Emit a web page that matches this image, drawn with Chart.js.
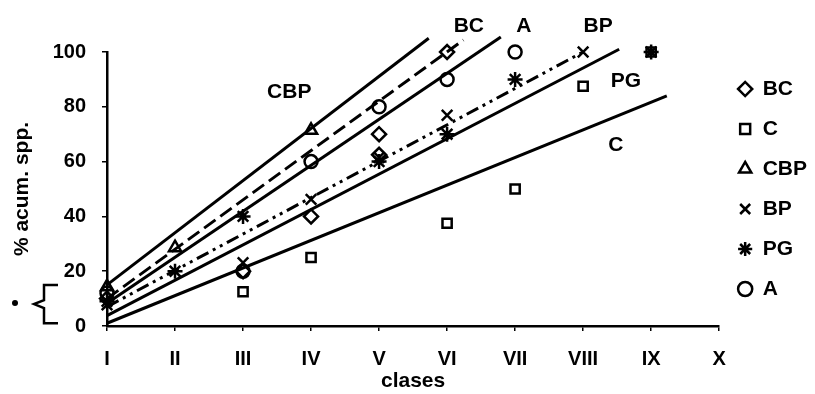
<!DOCTYPE html>
<html>
<head>
<meta charset="utf-8">
<script src="https://cdn.jsdelivr.net/npm/chart.js@4.4.1/dist/chart.umd.min.js"></script>
<style>
  html, body { margin: 0; padding: 0; background: #fff; }
</style>
</head>
<body>
<canvas id="curves" width="815" height="394"></canvas>
<script>
// clases on the x axis (1..10)
const classes = ['I', 'II', 'III', 'IV', 'V', 'VI', 'VII', 'VIII', 'IX', 'X'];
const yTicks = [0, 20, 40, 60, 80, 100];

// % acumulado de especies por clase: [clase, %]
const bcPoints  = [[1, 10], [3, 20], [4, 40], [5, 62.5], [5, 70], [6, 100]];
const cPoints   = [[3, 12.5], [4, 25], [6, 37.5], [7, 50], [8, 87.5], [9, 100]];
const cbpPoints = [[1, 14.3], [2, 28.6], [4, 71.4]];
const bpPoints  = [[1, 7.7], [3, 23.1], [4, 46.2], [5, 61.5], [6, 76.9], [8, 100]];
const pgPoints  = [[1, 9], [2, 20], [3, 40], [5, 60], [6, 70], [7, 90], [9, 100]];
const aPoints   = [[1, 12], [3, 20], [4, 60], [5, 80], [6, 90], [7, 100]];

// fitted lines: first and last point
const cbpFit = [[1, 15], [5.73, 105]];
const bcFit  = [[1, 10], [6.24, 104.4]];
const aFit   = [[1, 8.3], [6.79, 105.5]];
const bpFit  = [[1, 7], [8, 100]];
const pgFit  = [[1, 3.8], [8.53, 101]];
const cFit   = [[1, 1], [9.23, 84]];

// names written next to each fitted line
const lineNames = ['CBP', 'BC', 'A', 'BP', 'PG', 'C'];
const labelSpots = [[3.68, 85.4], [6.32, 109.5], [7.13, 109.5], [8.22, 109.5], [8.63, 89.4], [8.48, 66]];

const FONT = "'Liberation Sans', Arial, sans-serif";
Chart.defaults.font.family = FONT;
Chart.defaults.font.weight = 'bold';
Chart.defaults.font.size = 20;
Chart.defaults.color = '#000';

const toXY = pts => pts.map(([x, y]) => ({x: x, y: y}));

function markers(label, pts, style, radius) {
  return {
    label: label,
    data: toXY(pts),
    pointStyle: style,
    pointRadius: radius,
    pointBorderWidth: 2.5,
    borderColor: '#000',
    backgroundColor: 'rgba(0,0,0,0)',
    borderWidth: 2.5,
    clip: false
  };
}

function fit(pts, dash) {
  return {
    label: 'fit',
    data: toXY(pts),
    showLine: true,
    pointRadius: 0,
    borderColor: '#000',
    borderWidth: 3,
    borderDash: dash,
    fill: false,
    clip: false
  };
}

const annotate = {
  id: 'annotate',
  afterDatasetsDraw(chart) {
    const {ctx, scales: {x, y}} = chart;
    ctx.save();
    ctx.fillStyle = '#000';
    ctx.strokeStyle = '#000';
    ctx.font = 'bold 21px ' + FONT;
    ctx.textAlign = 'center';
    ctx.textBaseline = 'middle';
    lineNames.forEach((name, i) => {
      ctx.fillText(name, x.getPixelForValue(labelSpots[i][0]), y.getPixelForValue(labelSpots[i][1]));
    });

    // bracket beside the y axis around the lowest values
    const top = y.getPixelForValue(15), bot = y.getPixelForValue(1), mid = (top + bot) / 2;
    const bx = x.left - 63;
    ctx.lineWidth = 2.5;
    ctx.beginPath();
    ctx.moveTo(bx + 14, top);
    ctx.lineTo(bx, top);
    ctx.lineTo(bx, mid - 4);
    ctx.lineTo(bx - 10, mid);
    ctx.lineTo(bx, mid + 4);
    ctx.lineTo(bx, bot);
    ctx.lineTo(bx + 14, bot);
    ctx.stroke();
    ctx.beginPath();
    ctx.arc(bx - 29, mid - 1, 3, 0, Math.PI * 2);
    ctx.fill();
    ctx.restore();
  }
};

new Chart(document.getElementById('curves'), {
  type: 'scatter',
  data: {
    datasets: [
      markers('BC', bcPoints, 'rectRot', 7),
      markers('C', cPoints, 'rect', 6.5),
      markers('CBP', cbpPoints, 'triangle', 7),
      markers('BP', bpPoints, 'crossRot', 7.5),
      markers('PG', pgPoints, 'star', 7.5),
      markers('A', aPoints, 'circle', 6.5),
      fit(cbpFit, []),
      fit(bcFit, [14, 6]),
      fit(aFit, []),
      fit(bpFit, [13, 5, 3, 5, 3, 5]),
      fit(pgFit, []),
      fit(cFit, [])
    ]
  },
  options: {
    responsive: false,
    animation: false,
    events: [],
    layout: { padding: { top: 52, right: -2, bottom: 0, left: 0 } },
    plugins: {
      tooltip: { enabled: false },
      legend: {
        position: 'right',
        fullSize: false,
        labels: {
          usePointStyle: true,
          boxWidth: 14,
          boxHeight: 10,
          padding: 19,
          font: { size: 21, weight: 'bold' },
          filter: item => item.datasetIndex < 6
        }
      }
    },
    scales: {
      x: {
        type: 'linear',
        min: 1,
        max: 10,
        afterFit: s => { s.height = 68; },
        afterBuildTicks: s => { s.ticks = classes.map((c, i) => ({value: i + 1})); },
        ticks: {
          padding: 16,
          maxRotation: 0,
          callback: v => classes[v - 1]
        },
        grid: { drawOnChartArea: false, tickLength: 5, color: '#000', lineWidth: 1.5 },
        border: { color: '#000', width: 2.5 },
        title: { display: true, text: 'clases', font: { size: 21 }, padding: { top: 0, bottom: 0 } }
      },
      y: {
        min: 0,
        max: 100,
        afterFit: s => { s.width = 107; },
        afterBuildTicks: s => { s.ticks = yTicks.map(v => ({value: v})); },
        ticks: { padding: 16 },
        grid: { drawOnChartArea: false, tickLength: 5, color: '#000', lineWidth: 1.5 },
        border: { color: '#000', width: 2.5 },
        title: { display: true, text: '% acum. spp.', font: { size: 21 }, padding: { top: 10, bottom: 0 } }
      }
    }
  },
  plugins: [annotate]
});
</script>
</body>
</html>
